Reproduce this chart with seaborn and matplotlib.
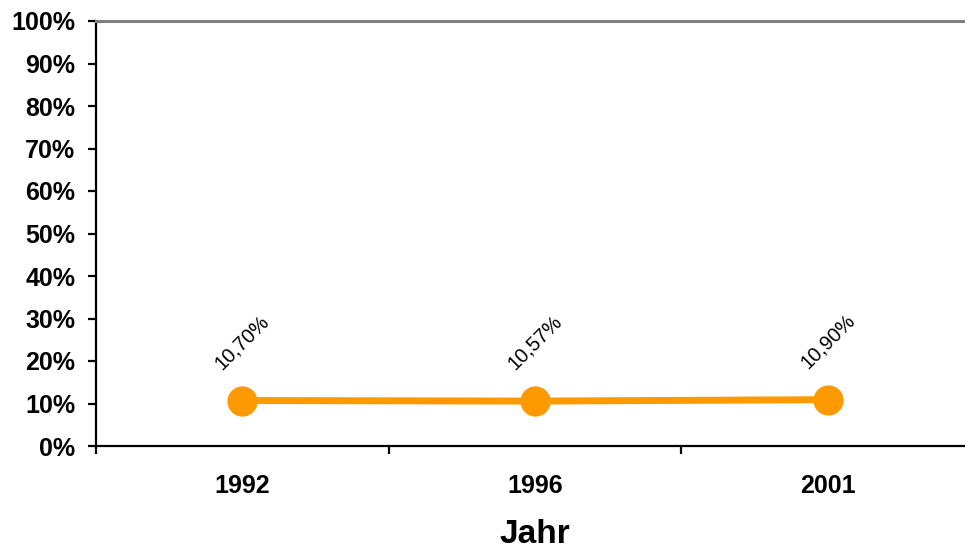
import matplotlib
matplotlib.use("Agg")
import matplotlib.pyplot as plt
from matplotlib.ticker import FixedLocator, FuncFormatter
import seaborn as sns
import pandas as pd

years = ["1992", "1996", "2001"]
shares = [10.70, 10.57, 10.90]
value_labels = ["10,70%", "10,57%", "10,90%"]
y_ticks = [0, 10, 20, 30, 40, 50, 60, 70, 80, 90, 100]

sns.set_theme(style="white")
plt.rcParams["font.family"] = ["Liberation Sans", "DejaVu Sans"]

df = pd.DataFrame({"Jahr": years, "Anteil": shares})

fig = plt.figure(figsize=(9.65, 5.46), dpi=100)
ax = fig.add_axes([96 / 965, 100 / 546, 878 / 965, 425 / 546])

orange = "#FF9900"
sns.pointplot(data=df, x="Jahr", y="Anteil", color=orange, markers="o",
              markersize=18, linewidth=5, ax=ax, errorbar=None)

for i, (v, lab) in enumerate(zip(shares, value_labels)):
    ax.annotate(lab, xy=(i, v), xytext=(0, 42), textcoords="offset points",
                ha="center", va="center", rotation=45, fontsize=14.5,
                color="black")

ax.set_xlim(-0.5, 2.5)
ax.set_ylim(0, 100)
ax.yaxis.set_major_locator(FixedLocator(y_ticks))
ax.yaxis.set_major_formatter(FuncFormatter(lambda v, p: f"{v:.0f}%"))

# category boundaries carry the tick marks, labels sit at the centres
ax.xaxis.set_minor_locator(FixedLocator([-0.5, 0.5, 1.5, 2.5]))
ax.tick_params(axis="x", which="major", length=0, pad=20, labelsize=18)
ax.tick_params(axis="x", which="minor", length=6, width=1.6, color="black",
               direction="out", bottom=True)
ax.tick_params(axis="y", which="major", length=6, width=1.6, color="black",
               direction="out", left=True, pad=9, labelsize=18)
for t in ax.get_xticklabels() + ax.get_yticklabels():
    t.set_fontweight("bold")
    t.set_color("black")

ax.set_xlabel("Jahr", fontsize=24, fontweight="bold", color="black")
ax.xaxis.label.set_va("baseline")
ax.xaxis.set_label_coords(0.5, -0.228)
ax.set_ylabel("")

for side in ["left", "bottom"]:
    ax.spines[side].set_color("black")
    ax.spines[side].set_linewidth(1.6)
ax.spines["top"].set_color("#808080")
ax.spines["top"].set_linewidth(2.2)
ax.spines["right"].set_visible(False)
ax.grid(False)

fig.savefig("out.png", dpi=100)
